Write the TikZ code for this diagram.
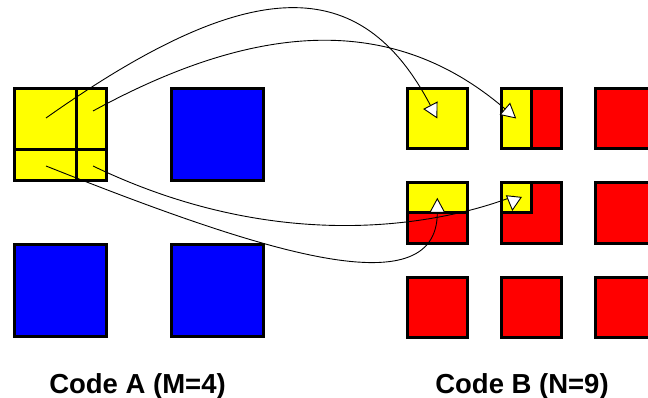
\documentclass[tikz,border=0pt]{standalone}
\usepackage{fontspec}
\setsansfont{Liberation Sans}
\usetikzlibrary{positioning, arrows.meta, calc}

\definecolor{cellyellow}{RGB}{255,255,0}
\definecolor{cellblue}{RGB}{0,0,255}
\definecolor{cellred}{RGB}{255,0,0}

\begin{document}
\begin{tikzpicture}[
    x=1pt, y=-1pt,
    font=\sffamily\bfseries,
    frame/.style={draw=black, line width=3pt},
    acell/.style={
        rectangle,
        frame,
        minimum size=92pt,
        inner sep=0pt,
        outer sep=0pt,
        fill=#1
    },
    bcell/.style={
        rectangle,
        frame,
        minimum size=60.5pt,
        inner sep=0pt,
        outer sep=0pt,
        fill=#1
    },
    part/.style={fill=cellyellow},
    maparrow/.style={-{Triangle[length=15pt, width=16pt, fill=white]}, line width=0.9pt},
    codelabel/.style={
        font=\fontsize{27.5}{30}\selectfont\sffamily\bfseries,
        anchor=base
    }
]

\useasboundingbox (0,0) rectangle (648,398);
\clip (0,0) rectangle (648,398);

% === CODE A (2x2) ===
\node (a11) [acell=cellyellow] at (60.8,134.6) {};
\node (a12) [acell=cellblue] at (217.5,134.6) {};
\node (a21) [acell=cellblue] at (60.8,290.5) {};
\node (a22) [acell=cellblue] at (217.5,290.5) {};

\draw [frame] ($(a11.north west)!2/3!(a11.north east)$) -- ($(a11.south west)!2/3!(a11.south east)$);
\draw [frame] ($(a11.north west)!2/3!(a11.south west)$) -- ($(a11.north east)!2/3!(a11.south east)$);

% === CODE B (3x3) ===
\node (b11) [bcell=cellyellow] at (437.3,118.5) {};
\node (b12) [bcell=cellred] at (531.3,118.5) {};
\node (b13) [bcell=cellred] at (625.3,118.5) {};
\node (b21) [bcell=cellred] at (437.3,213) {};
\node (b22) [bcell=cellred] at (531.3,213) {};
\node (b23) [bcell=cellred] at (625.3,213) {};
\node (b31) [bcell=cellred] at (437.3,307.3) {};
\node (b32) [bcell=cellred] at (531.3,307.3) {};
\node (b33) [bcell=cellred] at (625.3,307.3) {};

% yellow parts taken from the first cell of code A
\fill [part] (b12.north west) rectangle (b12.south);
\fill [part] (b21.north west) rectangle (b21.east);
\fill [part] (b22.north west) rectangle (b22.center);

\draw [frame] (b12.north) -- (b12.south);
\draw [frame] (b21.west) -- (b21.east);
\draw [frame] (b22.north) -- (b22.center) -- (b22.west);
\draw [frame] (b12.north west) rectangle (b12.south east);
\draw [frame] (b21.north west) rectangle (b21.south east);
\draw [frame] (b22.north west) rectangle (b22.south east);

% === MAPPING ARROWS ===
\coordinate (qtl) at (46,118);
\coordinate (qtr) at (93,111);
\coordinate (qbl) at (46,166);
\coordinate (qbr) at (93,166);
\coordinate (half12) at ($(b12.west)!0.5!(b12.center)$);
\coordinate (half21) at ($(b21.north)!0.5!(b21.center)$);
\coordinate (quart22) at ([shift={(-19,-2)}]b22.center);

\draw [maparrow] (qtl) .. controls (251,-27) and (361,-27) .. (b11.center);
\draw [maparrow] (qtr) .. controls (265,17) and (398,17) .. (half12);
\draw [maparrow] (qbl) .. controls (255,249) and (437.3,310) .. (half21);
\draw [maparrow] (qbr) .. controls (330,280) and (514,195) .. (quart22);

% === LABELS ===
\node (labelA) [codelabel] at (137.5,393) {Code A (M=4)};
\node (labelB) [codelabel] at (522,393) {Code B (N=9)};

\end{tikzpicture}
\end{document}
